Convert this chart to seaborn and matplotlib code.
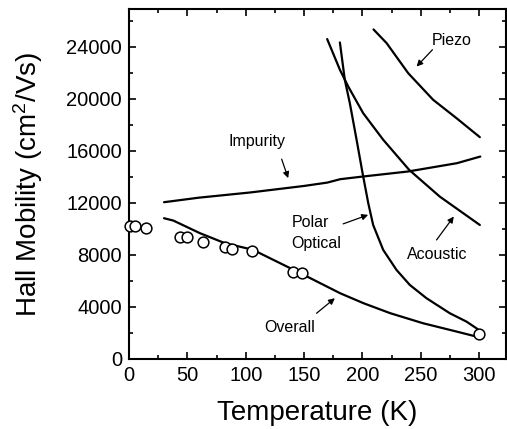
import matplotlib
matplotlib.use("Agg")
import matplotlib.pyplot as plt
from matplotlib.ticker import MultipleLocator
import seaborn as sns
import pandas as pd

# ---- data ----
meas_T = [0.9, 5.1, 14.3, 44, 49.4, 63, 82, 88.6, 105.7, 140.8, 148.5, 300.3]
meas_mu = [10230, 10230, 10080, 9360, 9360, 8970, 8590, 8430, 8300, 6690, 6640, 1950]

overall_T = [30, 38, 60.8, 82.2, 106, 149, 181, 201, 224, 252, 281, 298]
overall_mu = [10820, 10640, 9670, 8900, 8400, 6500, 5050, 4285, 3515, 2746, 2100, 1715]

impurity_T = [30, 60, 104, 150, 170, 181, 200, 239, 281, 301]
impurity_mu = [12050, 12400, 12800, 13300, 13560, 13820, 14020, 14410, 15050, 15560]

polar_T = [180.7, 184.9, 189.2, 195, 200.1, 205, 209.2, 217.8, 229.2, 240.6, 254.9, 274.9, 289.2, 297.7, 300.6]
polar_mu = [24330, 21460, 19670, 16850, 14300, 11977, 10300, 8385, 6846, 5692, 4670, 3515, 2870, 2360, 2150]

acoustic_T = [169.8, 180.7, 187.8, 200.6, 217.8, 240, 266.3, 300.6]
acoustic_mu = [24590, 22230, 20950, 18900, 16850, 14540, 12480, 10300]

piezo_T = [209.5, 220.7, 239.2, 260.6, 280.6, 300.6]
piezo_mu = [25330, 24280, 21970, 19920, 18510, 17050]

xticks = [0, 50, 100, 150, 200, 250, 300]
yticks = [0, 4000, 8000, 12000, 16000, 20000, 24000]

sns.set_theme(style="ticks")
plt.rcParams["font.family"] = ["Liberation Sans", "DejaVu Sans"]
plt.rcParams["mathtext.default"] = "regular"
plt.rcParams["text.color"] = "black"
plt.rcParams["axes.labelcolor"] = "black"
plt.rcParams["xtick.color"] = "black"
plt.rcParams["ytick.color"] = "black"

fig = plt.figure(figsize=(5.07, 4.29), dpi=100)
ax = fig.add_axes([0.2544, 0.1632, 0.7436, 0.8158])

lw = 1.6
for T, mu in [(overall_T, overall_mu), (impurity_T, impurity_mu), (polar_T, polar_mu),
              (acoustic_T, acoustic_mu), (piezo_T, piezo_mu)]:
    df = pd.DataFrame({"T": T, "mu": mu})
    sns.lineplot(data=df, x="T", y="mu", sort=False, color="black", lw=lw, ax=ax)

dfm = pd.DataFrame({"T": meas_T, "mu": meas_mu})
sns.scatterplot(data=dfm, x="T", y="mu", marker="o", s=60, facecolor="white",
                edgecolor="black", linewidth=1.1, ax=ax, zorder=5, clip_on=False)

ax.set_xlim(0, 323)
ax.set_ylim(0, 26900)
ax.set_xticks(xticks)
ax.set_yticks(yticks)
ax.set_xticklabels([str(v) for v in xticks])
ax.set_yticklabels([str(v) for v in yticks])
ax.xaxis.set_minor_locator(MultipleLocator(25))
ax.yaxis.set_minor_locator(MultipleLocator(2000))
ax.tick_params(which="both", direction="in", top=True, right=True, color="black", width=1.2,
               labelcolor="black")
ax.tick_params(which="major", length=5, labelsize=14.5, pad=5)
ax.tick_params(which="minor", length=3)
for s in ax.spines.values():
    s.set_color("black")
    s.set_linewidth(1.5)

ax.set_xlabel("Temperature (K)", fontsize=20, labelpad=11, color="black")
ax.set_ylabel("Hall Mobility (cm$^2$/Vs)", fontsize=20, labelpad=15, color="black")

ap = dict(arrowstyle="-|>", color="black", lw=0.9, mutation_scale=9, shrinkA=0, shrinkB=0)
fs = 11.5
ax.text(276.4, 24500, "Piezo", ha="center", va="center", fontsize=fs, color="black")
ax.annotate("", xy=(246.4, 22480), xytext=(260, 23770), arrowprops=ap)
ax.text(109.4, 16715, "Impurity", ha="center", va="center", fontsize=fs, color="black")
ax.annotate("", xy=(136.4, 13900), xytext=(130.8, 15360), arrowprops=ap)
ax.text(139.3, 9650, "Polar\nOptical", ha="left", va="center", fontsize=fs, linespacing=1.5,
        color="black")
ax.annotate("", xy=(204.9, 11077), xytext=(183.5, 10385), arrowprops=ap)
ax.text(264.4, 8000, "Acoustic", ha="center", va="center", fontsize=fs, color="black")
ax.annotate("", xy=(278.3, 10950), xytext=(263.5, 9150), arrowprops=ap)
ax.text(137.9, 2420, "Overall", ha="center", va="center", fontsize=fs, color="black")
ax.annotate("", xy=(176.4, 4670), xytext=(160.7, 3515), arrowprops=ap)

fig.savefig("out.png", dpi=100)
